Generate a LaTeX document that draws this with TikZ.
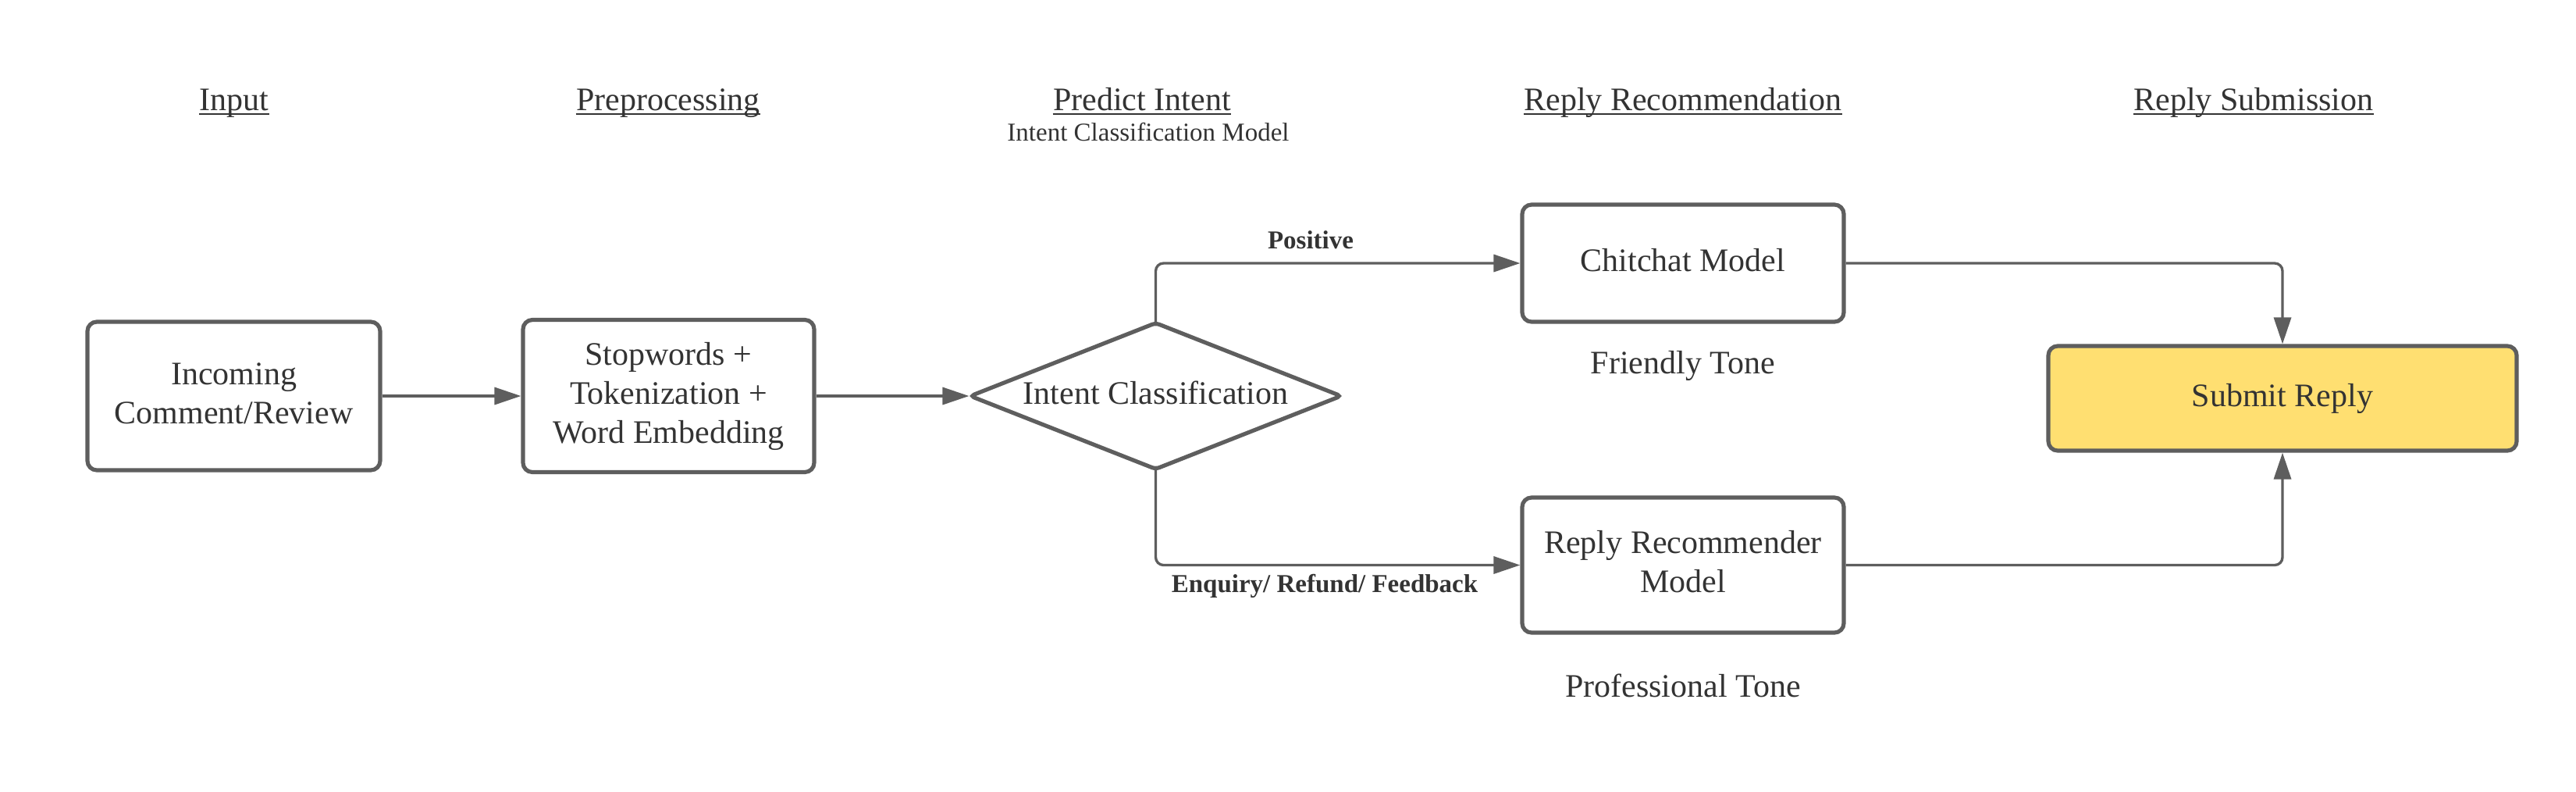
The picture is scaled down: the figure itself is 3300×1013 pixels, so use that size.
\documentclass[tikz,border=0pt]{standalone}
\usepackage{fontspec}
\setmainfont{Liberation Serif}
\usetikzlibrary{arrows.meta,shapes.geometric}
\definecolor{ln}{HTML}{5E5E5E}
\definecolor{tx}{HTML}{333333}
\definecolor{yel}{HTML}{FFDF71}
\newcommand{\bt}[1]{\begin{tabular}{@{}c@{}}#1\end{tabular}}
\begin{document}
\begin{tikzpicture}[x=0.3pt,y=-0.3pt,
  bigfont/.style={font=\fontsize{12.6}{15}\selectfont},
  box/.style={draw=ln, line width=1.55pt, rounded corners=3.6pt, inner sep=0pt, text=tx, bigfont},
  decision/.style={diamond, draw=ln, line width=1.55pt, rounded corners=1.5pt, inner sep=0pt, aspect=2.52, text=tx, bigfont},
  conn/.style={draw=ln, line width=1pt, rounded corners=3pt, -{Triangle[length=10.2pt,width=6.6pt]}},
  hdr/.style={anchor=base, inner sep=0pt, text=tx, bigfont},
  plain/.style={anchor=base, inner sep=0pt, text=tx, bigfont},
  subt/.style={anchor=base, inner sep=0pt, text=tx, font=\fontsize{9.9}{12}\selectfont},
  lab/.style={anchor=base, inner sep=0pt, text=tx, font=\fontsize{9.9}{12}\selectfont\bfseries},
  ul/.style={draw=tx, line width=0.5pt}]
\useasboundingbox (0,0) rectangle (3300,1013);

% headers
\node[hdr] (h1) at (300,141) {Input};
\node[hdr] (h2) at (856,141) {Preprocessing};
\node[hdr] (h3) at (1463,141) {Predict Intent};
\node[hdr] (h4) at (2156,141) {Reply Recommendation};
\node[hdr] (h5) at (2887,141) {Reply Submission};
\foreach \h in {h1,h2,h3,h4,h5}
  \draw[ul] ([yshift=-1.5pt]\h.base west) -- ([yshift=-1.5pt]\h.base east);
\node[subt] (sub) at (1471,180) {Intent Classification Model};

% boxes
\node[box, minimum width=112.5pt, minimum height=57pt] (inc) at (299.5,507) {\bt{Incoming\\Comment/Review}};
\node[box, minimum width=111.9pt, minimum height=58.5pt] (pre) at (856.5,507) {\bt{Stopwords +\\Tokenization +\\Word Embedding}};
\node[decision, minimum width=143.1pt, minimum height=56.7pt] (dia) at (1480.5,507) {\bt{Intent Classification}};
\node[box, minimum width=123.6pt, minimum height=45pt] (chit) at (2156,337) {\bt{Chitchat Model}};
\node[box, minimum width=123.6pt, minimum height=51.9pt] (rec) at (2156,723.5) {\bt{Reply Recommender\\Model}};
\node[box, fill=yel, minimum width=180pt, minimum height=40.2pt] (sub2) at (2924,510) {\bt{Submit Reply}};

% free labels
\node[plain] (ft) at (2156,478) {Friendly Tone};
\node[plain] (pt) at (2156,892) {Professional Tone};
\node[lab] (pos) at (1679,318) {Positive};
\node[lab] (enq) at (1697,758) {Enquiry/ Refund/ Feedback};

% connectors
\draw[conn] (inc.east) -- (pre.west);
\draw[conn, shorten >=-0.6pt] (pre.east) -- (dia.west);
\draw[conn, shorten <=-0.6pt] (dia.north) |- (chit.west);
\draw[conn, shorten <=-0.6pt] (dia.south) |- (rec.west);
\draw[conn] (chit.east) -| (sub2.north);
\draw[conn] (rec.east) -| (sub2.south);
\end{tikzpicture}
\end{document}
